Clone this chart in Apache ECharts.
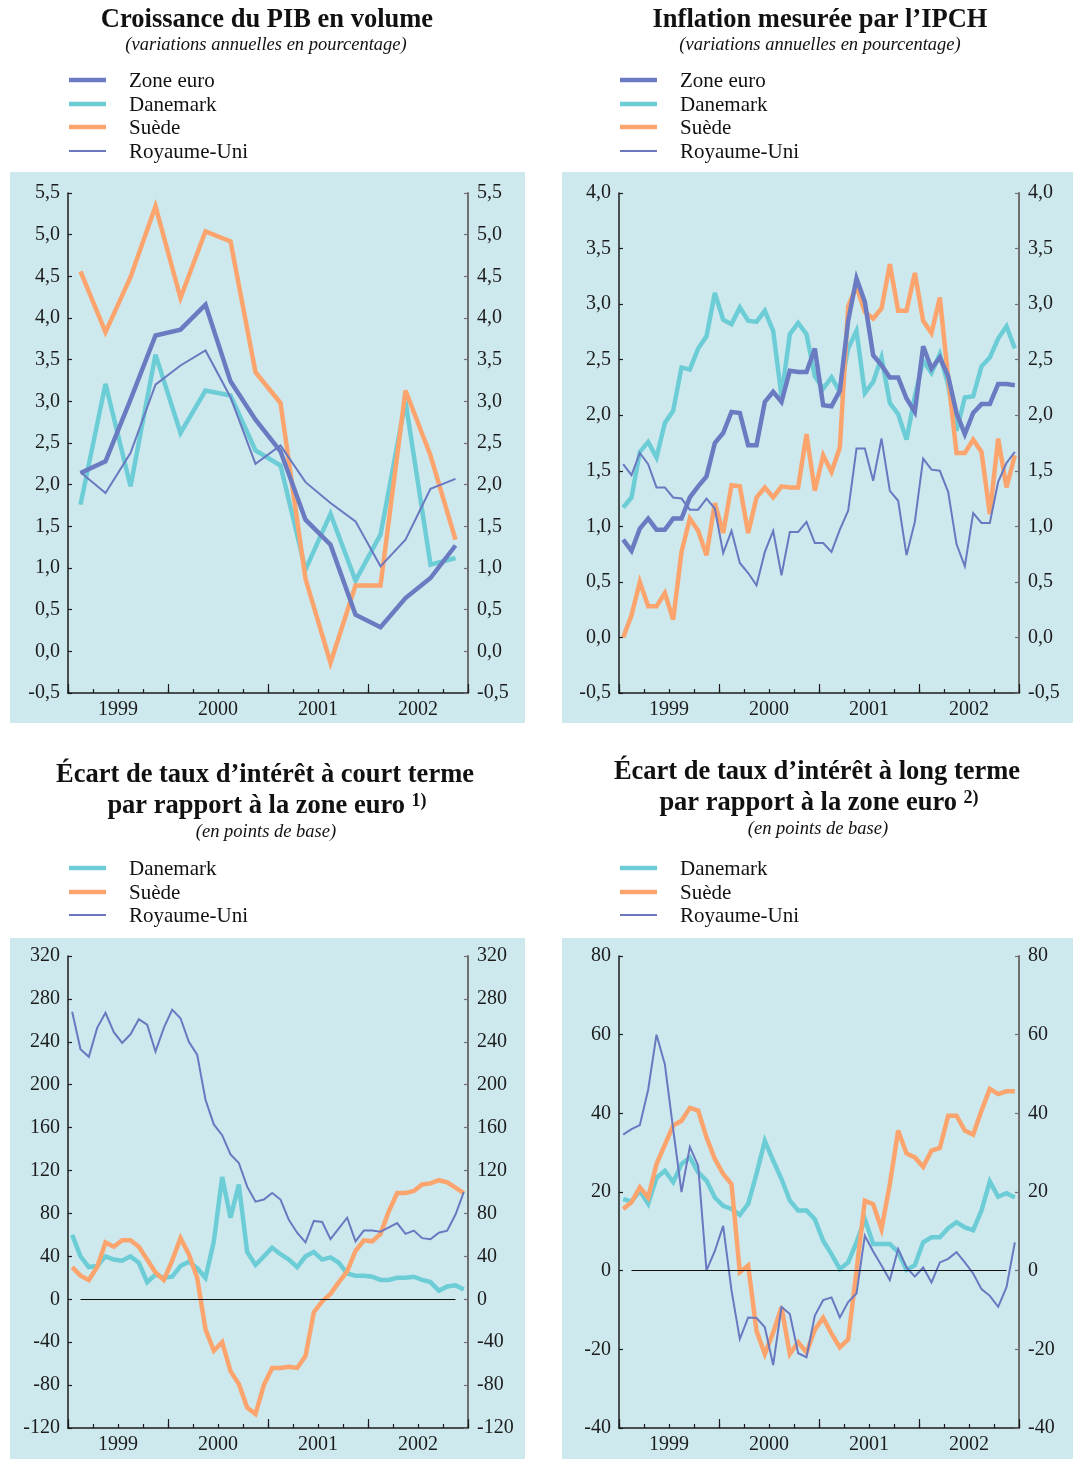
<!DOCTYPE html>
<html lang="fr">
<head>
<meta charset="utf-8">
<title>Zone euro, Danemark, Suède, Royaume-Uni</title>
<script src="https://cdn.jsdelivr.net/npm/echarts@6/dist/echarts.min.js"></script>
<style>
html, body { margin: 0; padding: 0; background: #ffffff; }
#chart { width: 1073px; height: 1459px; }
</style>
</head>
<body>
<div id="chart"></div>
<script>
// Période couverte : 1999-2002
const years = ['1999', '2000', '2001', '2002'];

// Croissance du PIB en volume (variations annuelles en %), 1999 T1 – 2002 T4
const gdpZoneEuro    = [2.14, 2.28, 3.02, 3.79, 3.86, 4.16, 3.24, 2.78, 2.40, 1.58, 1.28, 0.44, 0.29, 0.64, 0.88, 1.27];
const gdpDanemark    = [1.76, 3.21, 1.98, 3.56, 2.62, 3.13, 3.07, 2.41, 2.23, 0.98, 1.65, 0.85, 1.40, 3.00, 1.04, 1.12];
const gdpSuede       = [4.56, 3.83, 4.49, 5.34, 4.24, 5.04, 4.92, 3.35, 2.98, 0.87, -0.14, 0.79, 0.79, 3.13, 2.35, 1.34];
const gdpRoyaumeUni  = [2.15, 1.90, 2.38, 3.20, 3.43, 3.61, 3.05, 2.25, 2.47, 2.03, 1.78, 1.56, 1.02, 1.34, 1.95, 2.07];

// Inflation mesurée par l'IPCH (variations annuelles en %), janvier 1999 – décembre 2002
const hicpZoneEuro   = [0.88, 0.78, 0.98, 1.07, 0.97, 0.97, 1.07, 1.07, 1.26, 1.36, 1.45, 1.75,
                        1.84, 2.03, 2.02, 1.73, 1.73, 2.12, 2.21, 2.12, 2.40, 2.39, 2.39, 2.60,
                        2.09, 2.08, 2.22, 2.85, 3.23, 3.02, 2.54, 2.45, 2.34, 2.34, 2.15, 2.03,
                        2.62, 2.42, 2.52, 2.35, 2.02, 1.83, 2.02, 2.10, 2.10, 2.28, 2.28, 2.27];
const hicpDanemark   = [1.17, 1.26, 1.67, 1.76, 1.62, 1.93, 2.04, 2.43, 2.41, 2.60, 2.71, 3.10,
                        2.86, 2.82, 2.97, 2.85, 2.84, 2.94, 2.76, 2.17, 2.73, 2.83, 2.73, 2.35,
                        2.24, 2.34, 2.21, 2.60, 2.76, 2.20, 2.30, 2.52, 2.11, 2.01, 1.78, 2.17,
                        2.49, 2.38, 2.55, 2.27, 1.86, 2.16, 2.17, 2.44, 2.52, 2.69, 2.80, 2.60];
const hicpSuede      = [0.00, 0.20, 0.50, 0.28, 0.28, 0.40, 0.16, 0.77, 1.07, 0.96, 0.74, 1.21,
                        0.94, 1.37, 1.36, 0.94, 1.26, 1.35, 1.26, 1.36, 1.35, 1.35, 1.83, 1.32,
                        1.64, 1.49, 1.71, 2.98, 3.16, 2.93, 2.87, 2.96, 3.36, 2.94, 2.94, 3.28,
                        2.85, 2.74, 3.06, 2.34, 1.66, 1.66, 1.78, 1.67, 1.11, 1.79, 1.35, 1.64];
const hicpRoyaumeUni = [1.56, 1.46, 1.66, 1.56, 1.35, 1.35, 1.26, 1.25, 1.15, 1.15, 1.25, 1.16,
                        0.76, 0.96, 0.67, 0.58, 0.47, 0.77, 0.96, 0.56, 0.95, 0.95, 1.04, 0.85,
                        0.85, 0.77, 0.97, 1.14, 1.70, 1.70, 1.41, 1.79, 1.32, 1.23, 0.74, 1.04,
                        1.61, 1.51, 1.50, 1.31, 0.84, 0.64, 1.12, 1.03, 1.03, 1.40, 1.57, 1.67];

// Écart de taux d'intérêt à court terme par rapport à la zone euro (points de base), mensuel
const stDanemark     = [60, 40, 30, 31, 40, 37, 36, 40, 34, 16, 23, 20,
                        21, 31, 35, 29, 20, 54, 114, 76, 107, 44, 32, 40,
                        48, 42, 37, 30, 40, 44, 37, 39, 34, 24, 22, 22,
                        21, 18, 18, 20, 20, 21, 18, 16, 8, 12, 13, 9];
const stSuede        = [30, 22, 18, 30, 53, 49, 55, 55, 49, 37, 25, 18,
                        36, 57, 42, 20, -28, -48, -40, -67, -79, -101, -107, -80,
                        -64, -64, -63, -64, -53, -12, -2, 5, 16, 26, 45, 55,
                        54, 61, 82, 99, 99, 101, 107, 108, 111, 109, 104, 99];
const stRoyaumeUni   = [268, 233, 226, 253, 267, 249, 239, 247, 261, 256, 231, 253,
                        270, 262, 240, 228, 186, 163, 153, 135, 127, 105, 91, 93,
                        99, 93, 74, 62, 53, 73, 72, 56, 66, 76, 54, 64,
                        64, 63, 67, 71, 61, 64, 57, 56, 62, 64, 79, 100];

// Écart de taux d'intérêt à long terme par rapport à la zone euro (points de base), mensuel
const ltDanemark     = [18.2, 17.6, 20.3, 17.0, 23.6, 25.4, 22.5, 27.1, 28.8, 25.0, 22.9, 18.6,
                        16.5, 15.7, 14.2, 17.0, 24.6, 33.0, 28.0, 23.3, 17.8, 15.3, 15.3, 13.1,
                        7.6, 4.2, 0.4, 2.1, 7.2, 13.1, 6.8, 6.8, 6.8, 4.7, 0.2, 1.4,
                        7.2, 8.5, 8.5, 10.8, 12.3, 11.0, 10.3, 15.3, 22.7, 18.8, 19.7, 18.6];
const ltSuede        = [15.7, 17.4, 21.2, 18.6, 27.1, 32.0, 36.9, 38.1, 41.4, 40.7, 33.9, 28.4,
                        24.6, 22.0, -0.4, 1.3, -15.3, -21.2, -15.7, -9.3, -21.2, -18.2, -20.8, -15.0,
                        -12.0, -16.0, -19.5, -17.5, 0.0, 17.8, 16.9, 10.6, 22.0, 35.6, 29.8, 28.8,
                        26.4, 30.5, 31.2, 39.4, 39.4, 35.6, 34.6, 40.7, 46.2, 44.9, 45.6, 45.6];
const ltRoyaumeUni   = [34.6, 36.0, 37.0, 46.0, 60.0, 52.5, 36.0, 20.0, 31.5, 26.7, 0.0, 5.0,
                        11.4, -5.0, -17.4, -11.9, -12.0, -14.4, -24.0, -9.2, -11.0, -21.0, -22.0, -11.4,
                        -7.5, -6.8, -11.9, -8.0, -5.8, 8.9, 4.9, 1.3, -2.4, 5.5, 0.8, -1.5,
                        0.8, -3.0, 2.1, 3.0, 4.7, 2.1, -0.7, -4.7, -6.4, -9.2, -4.2, 7.2];

// ---------------------------------------------------------------------------
const FONT = '"Liberation Serif", "Times New Roman", serif';
const PANEL_BG = '#cde9ee';
const C_EURO = '#6b7bc1';
const C_DK = '#6dcdd6';
const C_SE = '#fba46d';
const C_UK = '#6b78c0';
const THICK = 4.5, THIN = 2;

// The time axis runs in months from January 1999 (0) to December 2002 (48);
// quarterly points sit mid-quarter, monthly points mid-month.
const quarterly = arr => arr.map((v, q) => [q * 3 + 1.5, v]);
const monthly = arr => arr.map((v, m) => [m + 0.5, v]);

const panels = [
  { grid: { left: 68, top: 193, width: 400, height: 500 }, y: [-0.5, 5.5, 0.5], dec: true },
  { grid: { left: 619, top: 193, width: 400, height: 500 }, y: [-0.5, 4.0, 0.5], dec: true },
  { grid: { left: 68, top: 956, width: 400, height: 472 }, y: [-120, 320, 40], dec: false },
  { grid: { left: 619, top: 956, width: 400, height: 472 }, y: [-40, 80, 20], dec: false }
];

const grid = [], xAxis = [], yAxis = [];
const labelStyle = { fontFamily: FONT, fontSize: 20, color: '#1c1c1c' };

panels.forEach((p, i) => {
  grid.push(Object.assign({ containLabel: false }, p.grid));
  const fmt = p.dec ? (v => v.toFixed(1).replace('.', ',')) : (v => String(v));
  // quarter ticks + year labels
  xAxis.push({
    type: 'value', gridIndex: i, min: 0, max: 48, interval: 3, position: 'bottom',
    axisLine: { show: true, onZero: false, lineStyle: { color: '#1c1c1c', width: 1.5 } },
    axisTick: { show: true, inside: true, length: 4, lineStyle: { color: '#1c1c1c', width: 1.2 } },
    axisLabel: Object.assign({
      margin: 7,
      formatter: v => {
        const k = (v - 6) / 12;
        return Number.isInteger(k) && years[k] ? years[k] : '';
      }
    }, labelStyle),
    splitLine: { show: false }
  });
  // year boundary ticks
  xAxis.push({
    type: 'value', gridIndex: i, min: 0, max: 48, interval: 12, position: 'bottom',
    axisLine: { show: false, onZero: false },
    axisTick: { show: true, inside: true, length: 9, lineStyle: { color: '#1c1c1c', width: 1.2 } },
    axisLabel: { show: false },
    splitLine: { show: false }
  });
  yAxis.push({
    type: 'value', gridIndex: i, position: 'left',
    min: p.y[0], max: p.y[1], interval: p.y[2],
    axisLine: { show: true, onZero: false, lineStyle: { color: '#1c1c1c', width: 1.5 } },
    axisTick: { show: true, inside: true, length: 4, lineStyle: { color: '#1c1c1c', width: 1.2 } },
    axisLabel: Object.assign({ margin: 8, formatter: fmt }, labelStyle),
    splitLine: { show: false }
  });
  yAxis.push({
    type: 'value', gridIndex: i, position: 'right',
    min: p.y[0], max: p.y[1], interval: p.y[2],
    axisLine: { show: true, onZero: false, lineStyle: { color: '#707070', width: 2 } },
    axisTick: { show: true, inside: true, length: 4, lineStyle: { color: '#707070', width: 1.2 } },
    axisLabel: Object.assign({ margin: 9, formatter: fmt }, labelStyle),
    splitLine: { show: false }
  });
});

function line(name, panel, data, color, width, extra) {
  return Object.assign({
    name: name, type: 'line',
    xAxisIndex: panel * 2, yAxisIndex: panel * 2,
    data: data, showSymbol: false, symbol: 'none', smooth: false,
    lineStyle: { color: color, width: width, join: 'miter', miterLimit: 4 },
    itemStyle: { color: color },
    silent: true, animation: false
  }, extra || {});
}

const zeroLineSpan = [1.5, 46.5];
const zeroLine = {
  markLine: {
    silent: true, symbol: ['none', 'none'], animation: false,
    label: { show: false },
    lineStyle: { color: '#111111', width: 1, type: 'solid' },
    data: [[{ coord: [zeroLineSpan[0], 0] }, { coord: [zeroLineSpan[1], 0] }]]
  }
};

const series = [
  line('Danemark', 0, quarterly(gdpDanemark), C_DK, THICK),
  line('Suède', 0, quarterly(gdpSuede), C_SE, THICK),
  line('Zone euro', 0, quarterly(gdpZoneEuro), C_EURO, THICK),
  line('Royaume-Uni', 0, quarterly(gdpRoyaumeUni), C_UK, THIN),

  line('Danemark', 1, monthly(hicpDanemark), C_DK, THICK),
  line('Suède', 1, monthly(hicpSuede), C_SE, THICK),
  line('Zone euro', 1, monthly(hicpZoneEuro), C_EURO, THICK),
  line('Royaume-Uni', 1, monthly(hicpRoyaumeUni), C_UK, THIN),

  line('Danemark', 2, monthly(stDanemark), C_DK, THICK, zeroLine),
  line('Suède', 2, monthly(stSuede), C_SE, THICK),
  line('Royaume-Uni', 2, monthly(stRoyaumeUni), C_UK, THIN),

  line('Danemark', 3, monthly(ltDanemark), C_DK, THICK, zeroLine),
  line('Suède', 3, monthly(ltSuede), C_SE, THICK),
  line('Royaume-Uni', 3, monthly(ltRoyaumeUni), C_UK, THIN)
];

// ---------------------------------------------------------------------------
// Panel backgrounds, headings and legends
const graphics = [];
[[10, 172, 515, 551], [562, 172, 511, 551], [10, 938, 515, 521], [562, 938, 511, 521]].forEach(r => {
  graphics.push({ type: 'rect', z: -10, silent: true,
    shape: { x: r[0], y: r[1], width: r[2], height: r[3] }, style: { fill: PANEL_BG } });
});

function text(str, x, y, font, rich) {
  const style = { text: str, x: x, y: y, font: font, fill: '#111111',
    textAlign: 'center', textVerticalAlign: 'middle', align: 'center', verticalAlign: 'middle' };
  if (rich) style.rich = rich;
  graphics.push({ type: 'text', silent: true, style: style });
}
const TITLE_FONT = 'bold 26.5px ' + FONT;
const SUB_FONT = 'italic 18.5px ' + FONT;
const supRich = { sup: { font: 'bold 18px ' + FONT, fill: '#111111', verticalAlign: 'top' } };

text('Croissance du PIB en volume', 267, 20, TITLE_FONT);
text('(variations annuelles en pourcentage)', 266, 45, SUB_FONT);
text('Inflation mesurée par l’IPCH', 820, 20, TITLE_FONT);
text('(variations annuelles en pourcentage)', 820, 45, SUB_FONT);

text('Écart de taux d’intérêt à court terme', 265, 775, TITLE_FONT);
text('par rapport à la zone euro {sup|1)}', 267, 806, TITLE_FONT, supRich);
text('(en points de base)', 266, 832, SUB_FONT);
text('Écart de taux d’intérêt à long terme', 817, 772, TITLE_FONT);
text('par rapport à la zone euro {sup|2)}', 819, 803, TITLE_FONT, supRich);
text('(en points de base)', 818, 829, SUB_FONT);

function legend(x0, rows, items) {
  items.forEach((it, k) => {
    const y = rows[k];
    graphics.push({ type: 'line', silent: true,
      shape: { x1: x0, y1: y, x2: x0 + 37, y2: y },
      style: { stroke: it[1], lineWidth: it[2] } });
    graphics.push({ type: 'text', silent: true,
      style: { text: it[0], x: x0 + 60, y: y + 1, font: '21px ' + FONT, fill: '#111111',
        textVerticalAlign: 'middle', verticalAlign: 'middle' } });
  });
}
const fourItems = [['Zone euro', C_EURO, THICK], ['Danemark', C_DK, THICK], ['Suède', C_SE, THICK], ['Royaume-Uni', C_UK, THIN]];
const threeItems = [['Danemark', C_DK, THICK], ['Suède', C_SE, THICK], ['Royaume-Uni', C_UK, THIN]];
legend(69, [80, 104, 127, 151], fourItems);
legend(620, [80, 104, 127, 151], fourItems);
legend(69, [868, 892, 915], threeItems);
legend(620, [868, 892, 915], threeItems);

const chart = echarts.init(document.getElementById('chart'), null, { renderer: 'canvas' });
chart.setOption({
  animation: false,
  backgroundColor: '#ffffff',
  grid: grid,
  xAxis: xAxis,
  yAxis: yAxis,
  series: series,
  graphic: { elements: graphics }
});
</script>
</body>
</html>
